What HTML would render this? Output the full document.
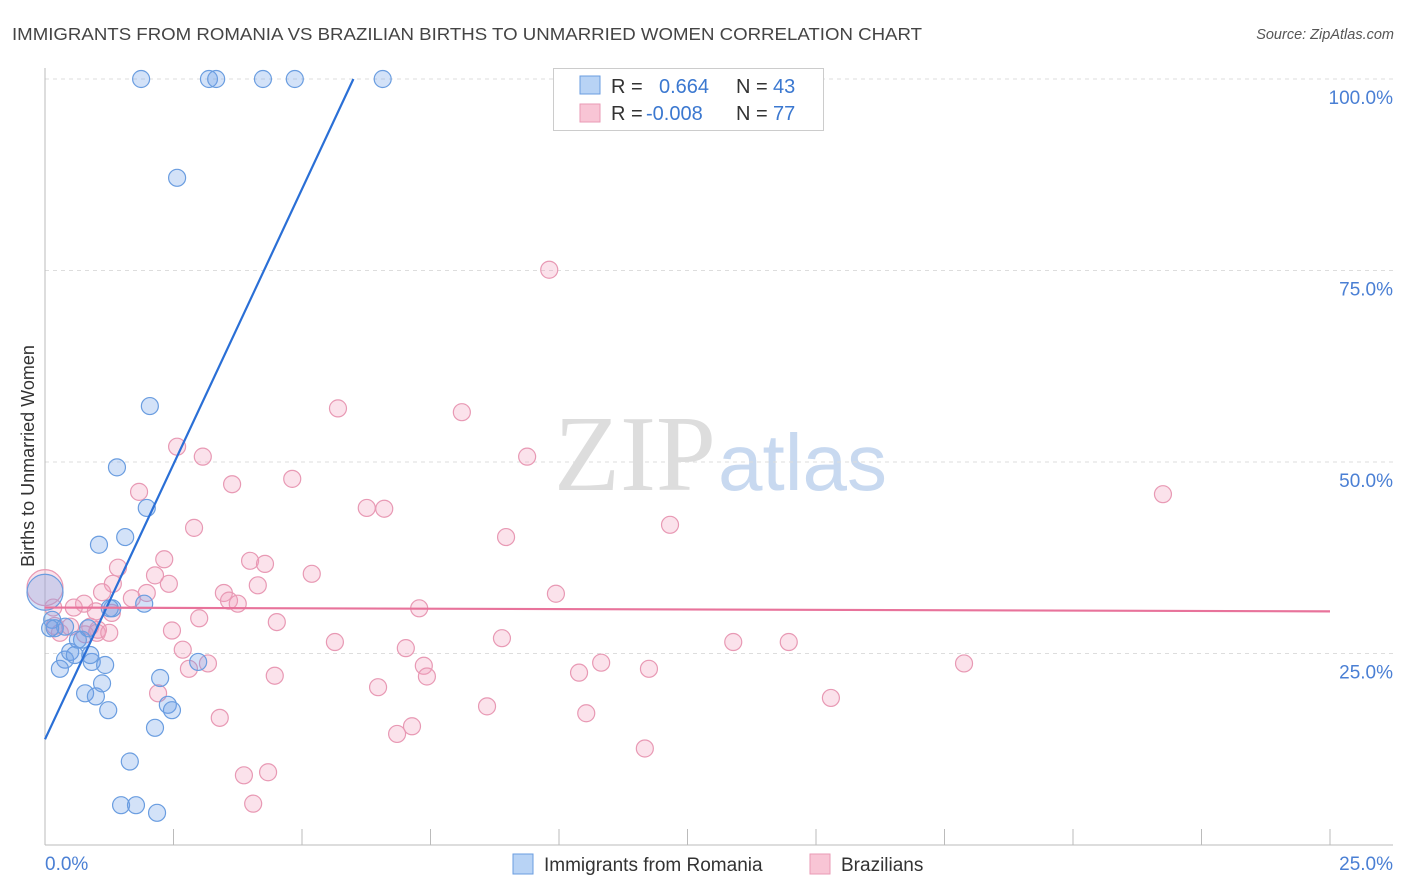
<!DOCTYPE html>
<html><head><meta charset="utf-8"><style>
body{margin:0;background:#fff;font-family:"Liberation Sans",sans-serif;}
</style></head><body>
<svg width="1406" height="892" style="display:block">
<text x="12" y="40" font-size="17.5" fill="#444" textLength="910" lengthAdjust="spacingAndGlyphs">IMMIGRANTS FROM ROMANIA VS BRAZILIAN BIRTHS TO UNMARRIED WOMEN CORRELATION CHART</text>
<text x="1394" y="39" font-size="14.5" fill="#555" font-style="italic" text-anchor="end">Source: ZipAtlas.com</text>
<text x="716" y="490" font-size="108" fill="#ddd" text-anchor="end" font-family="Liberation Serif,serif">ZIP</text>
<text x="718" y="490" font-size="80" fill="#c8d9f0">atlas</text>
<g id="grid"></g>
<g id="axes"></g>
<text transform="translate(34,456) rotate(-90)" font-size="18" fill="#333" text-anchor="middle">Births to Unmarried Women</text>
<g id="pts"></g>
<g id="lines"></g>
<g>
<rect x="553.5" y="68.5" width="270" height="62" fill="#fff" stroke="#ccc"/>
<rect x="580" y="76" width="20" height="18" fill="#b8d3f5" stroke="#6a9de0"/>
<rect x="580" y="104" width="20" height="18" fill="#f8c5d5" stroke="#ea9ab5"/>
<text font-size="20" fill="#333"><tspan x="611" y="93">R =</tspan><tspan x="736" y="93">N =</tspan><tspan x="611" y="120">R =</tspan><tspan x="736" y="120">N =</tspan></text>
<text font-size="20" fill="#3b78d0"><tspan x="659" y="93">0.664</tspan><tspan x="773" y="93">43</tspan><tspan x="646" y="120">-0.008</tspan><tspan x="773" y="120">77</tspan></text>
</g>
<g>
<rect x="513" y="854" width="20" height="20" fill="#b8d3f5" stroke="#6a9de0"/>
<text x="544" y="871" font-size="19" fill="#333">Immigrants from Romania</text>
<rect x="810" y="854" width="20" height="20" fill="#f8c5d5" stroke="#ea9ab5"/>
<text x="841" y="871" font-size="19" fill="#333">Brazilians</text>
</g>
</svg>
<script>
const yTicks=[25,50,75,100];
const xTickLabels=["0.0%","25.0%"];
const blueX=[1.87,3.19,3.33,4.24,4.86,6.57,2.57,2.04,1.40,1.98,1.05,1.56,1.31,1.93,0.14,0.19,0.39,0.72,0.39,0.49,0.58,0.91,1.17,0.29,0.88,0.78,0.99,1.11,1.23,2.24,2.39,2.47,2.98,2.14,1.65,1.48,1.77,2.18,0.1,0.84,1.26,0.64,0];
const blueY=[100,100,100,100,100,100,87.1,57.3,49.3,44.0,39.2,40.2,30.9,31.5,29.4,28.3,28.5,26.8,24.2,25.2,24.8,23.9,23.5,23.0,24.8,19.8,19.4,21.1,17.6,21.8,18.3,17.6,23.9,15.3,10.9,5.2,5.2,4.2,28.3,28.3,30.9,26.8,33];
const pinkX=[9.81,5.70,8.11,2.57,3.07,9.38,4.81,3.64,1.83,21.75,6.26,6.60,2.90,12.16,8.97,2.32,3.99,4.28,1.42,5.19,2.14,2.41,4.14,1.32,1.11,1.98,3.48,9.94,1.69,3.58,3.75,0.76,0.56,0.16,7.28,3.00,4.51,0.19,0.88,1.03,1.01,2.47,1.25,0.29,0.49,5.64,8.89,13.39,14.47,2.68,7.02,17.88,3.17,2.80,7.37,7.43,4.47,10.39,11.75,10.82,2.20,6.48,15.29,8.60,10.53,3.40,7.14,6.85,11.67,3.87,4.34,4.05,0.99,0.78,1.30,0];
const pinkY=[75.1,57.0,56.5,52.0,50.7,50.7,47.8,47.1,46.1,45.8,44.0,43.9,41.4,41.8,40.2,37.3,37.1,36.7,36.2,35.4,35.2,34.1,33.9,34.1,33.0,32.9,32.9,32.8,32.2,31.9,31.5,31.5,31.0,31.0,30.9,29.6,29.1,28.6,28.5,28.1,27.7,28.0,27.7,27.7,28.5,26.5,27.0,26.5,26.5,25.5,25.7,23.7,23.7,23.0,23.4,22.0,22.1,22.5,23.0,23.8,19.8,20.6,19.2,18.1,17.2,16.6,15.5,14.5,12.6,9.1,9.5,5.4,30.5,27.5,30.3,33.6];
const blueTrend=[[0,13.8],[6.0,100]];
const pinkTrend=[[0,31.0],[25,30.5]];
const NS="http://www.w3.org/2000/svg";
const X=v=>45+v/25*1285, Y=v=>845-v/100*766;
function mk(t,a,p){const e=document.createElementNS(NS,t);for(const k in a)e.setAttribute(k,a[k]);p.appendChild(e);return e;}
const grid=document.getElementById('grid'),axes=document.getElementById('axes'),pts=document.getElementById('pts'),lines=document.getElementById('lines');
yTicks.forEach(t=>{
 const l=mk('line',{x1:45,x2:1393,y1:Y(t),y2:Y(t),stroke:'#ddd','stroke-dasharray':'4,4'},grid);
 
 
 const tx=mk('text',{x:1393,y:Y(t)+25,'font-size':19,fill:'#4a7fd4','text-anchor':'end'},axes);
 tx.textContent=t.toFixed(1)+'%';
 
 
});
mk('line',{x1:45,x2:45,y1:68,y2:845,stroke:'#bbb'},axes);
mk('line',{x1:45,x2:1393,y1:845,y2:845,stroke:'#bbb'},axes);
for(let i=1;i<=10;i++){const t=mk('line',{x1:X(i*2.5),x2:X(i*2.5),y1:829,y2:845,stroke:'#bbb'},axes);
 
 }
const xl0=mk('text',{x:45,y:870,'font-size':19,fill:'#4a7fd4'},axes);xl0.textContent=xTickLabels[0];


const xl1=mk('text',{x:1393,y:870,'font-size':19,fill:'#4a7fd4','text-anchor':'end'},axes);xl1.textContent=xTickLabels[1];


function dots(xs,ys,fill,stroke,name){xs.forEach((x,i)=>{const big=(x===0);
 const c=mk('circle',{cx:X(x),cy:Y(ys[i]),r:big?18:8.5,fill:fill,stroke:stroke,'stroke-width':1.2},pts);
 
 });}
dots(pinkX,pinkY,'rgba(242,160,188,0.3)','#e899b4','brazilians-point');
dots(blueX,blueY,'rgba(110,160,232,0.3)','#6a9de0','romania-point');
const bl=mk('line',{x1:X(blueTrend[0][0]),y1:Y(blueTrend[0][1]),x2:X(blueTrend[1][0]),y2:Y(blueTrend[1][1]),stroke:'#2a6fd6','stroke-width':2.2},lines);


const pl=mk('line',{x1:X(pinkTrend[0][0]),y1:Y(pinkTrend[0][1]),x2:X(pinkTrend[1][0]),y2:Y(pinkTrend[1][1]),stroke:'#e8739b','stroke-width':2.2},lines);


</script>
</body></html>
